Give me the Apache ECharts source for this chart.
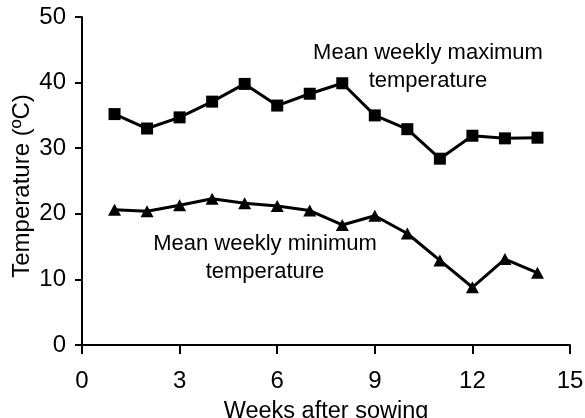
<!DOCTYPE html>
<html>
<head>
<meta charset="utf-8">
<script src="https://cdn.jsdelivr.net/npm/echarts@6/dist/echarts.min.js"></script>
<style>html,body{margin:0;padding:0;background:#fff;}#c{width:585px;height:418px;}</style>
</head>
<body>
<div id="c"></div>
<script>
var weeks = [1,2,3,4,5,6,7,8,9,10,11,12,13,14];
var maxTemp = [35.2,33.0,34.7,37.1,39.8,36.5,38.3,39.9,35.0,32.9,28.4,31.9,31.5,31.6];
var minTemp = [20.6,20.4,21.3,22.3,21.6,21.2,20.5,18.3,19.7,17.0,12.9,8.8,13.1,11.0];
var xTicks = [0,3,6,9,12,15];
var yTicks = [0,10,20,30,40,50];
var xTitle = 'Weeks after sowing';
var yTitle = 'Temperature (\u00baC)';
var maxLabel = 'Mean weekly maximum\ntemperature';
var minLabel = 'Mean weekly minimum\ntemperature';

var font = 'Liberation Sans, Arial, Helvetica, sans-serif';
function pairs(vals){ return weeks.map(function(w,i){ return [w, vals[i]]; }); }

var chart = echarts.init(document.getElementById('c'), null, {renderer:'canvas'});
chart.setOption({
  animation: false,
  backgroundColor: '#fff',
  grid: {left: 82, right: 15, top: 17, bottom: 73, containLabel: false, outerBoundsMode: 'none'},
  xAxis: {
    type: 'value', min: xTicks[0], max: xTicks[xTicks.length-1], interval: 3,
    name: xTitle, nameLocation: 'middle', nameGap: 55,
    nameTextStyle: {color:'#000', fontSize: 23.5, fontFamily: font},
    axisLine: {show:true, onZero:false, lineStyle:{color:'#000', width:2}},
    axisTick: {show:true, inside:false, length:9, lineStyle:{color:'#000', width:2}},
    axisLabel: {color:'#000', fontSize: 24, fontFamily: font, margin: 24},
    splitLine: {show:false}
  },
  yAxis: {
    type: 'value', min: yTicks[0], max: yTicks[yTicks.length-1], interval: 10,
    name: yTitle, nameLocation: 'middle', nameGap: 48, nameMoveOverlap: false,
    nameTextStyle: {color:'#000', fontSize: 24, fontFamily: font, padding: [0, 10, 0, 0]},
    axisLine: {show:true, lineStyle:{color:'#000', width:2}},
    axisTick: {show:true, inside:false, length:7, lineStyle:{color:'#000', width:2}},
    axisLabel: {color:'#000', fontSize: 24, fontFamily: font, margin: 16},
    splitLine: {show:false}
  },
  series: [
    {type:'line', data: pairs(maxTemp), symbol:'rect', symbolSize: 12,
     lineStyle:{color:'#000', width:3}, itemStyle:{color:'#000'}},
    {type:'line', data: pairs(minTemp), symbol:'triangle', symbolSize: [13,12],
     lineStyle:{color:'#000', width:3}, itemStyle:{color:'#000'}}
  ],
  graphic: [
    {type:'text', x: 428, y: 39, style:{text: maxLabel, fill:'#000', font: '22px ' + font, align:'center', lineHeight: 28}},
    {type:'text', x: 265, y: 230, style:{text: minLabel, fill:'#000', font: '22px ' + font, align:'center', lineHeight: 28}}
  ]
});
</script>
</body>
</html>
